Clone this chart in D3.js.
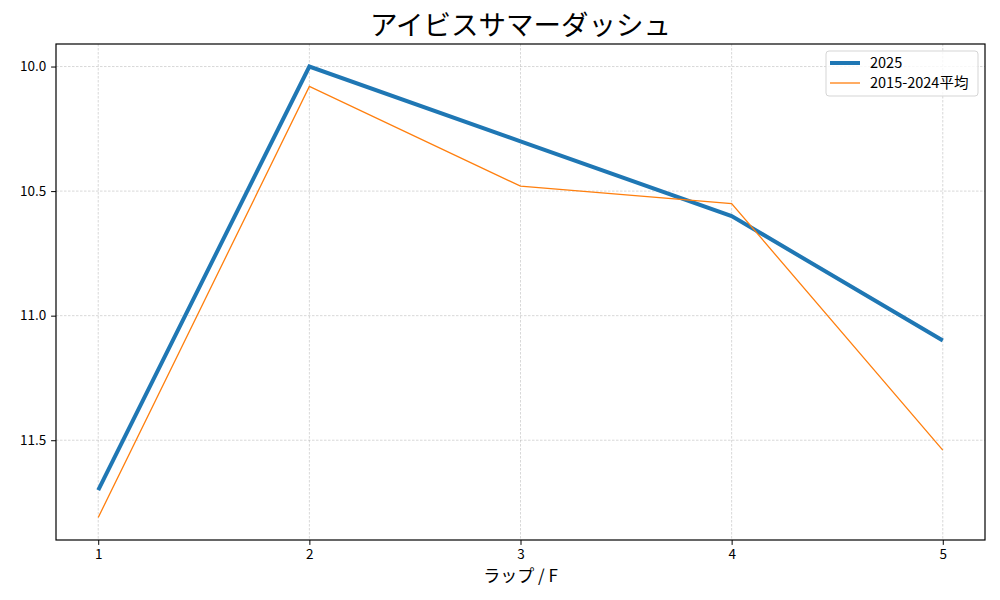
<!DOCTYPE html>
<html>
<head>
<meta charset="utf-8">
<script src="https://cdn.jsdelivr.net/npm/d3@7"></script>
<style>
  body { margin: 0; background: #fff; }
  text { font-family: "Noto Sans CJK JP", "DejaVu Sans", sans-serif; }
</style>
</head>
<body>
<script>
// lap data (seconds per furlong)
var laps = [1, 2, 3, 4, 5];
var times2025 = [11.7, 10.0, 10.3, 10.6, 11.1];
var timesAvg = [11.81, 10.08, 10.48, 10.55, 11.54];
var yTicks = [10.0, 10.5, 11.0, 11.5];
var seriesNames = ["2025", "2015-2024平均"];

var width = 1000;
var height = 600;
var margin = {left: 56, right: 15, top: 44, bottom: 60};
var plotW = width - margin.left - margin.right;
var plotH = height - margin.top - margin.bottom;

var svg = d3.select("body")
            .append("svg")
            .attr("width", width)
            .attr("height", height);

var xScale = d3.scaleLinear()
               .domain([0.8, 5.2])
               .range([margin.left, margin.left + plotW]);
var yScale = d3.scaleLinear()
               .domain([9.9095, 11.9005])
               .range([margin.top, margin.top + plotH]);

// grid
svg.append("g")
   .selectAll("line")
   .data(laps)
   .enter()
   .append("line")
   .attr("x1", function(d){ return xScale(d); })
   .attr("x2", function(d){ return xScale(d); })
   .attr("y1", margin.top)
   .attr("y2", margin.top + plotH)
   .attr("stroke", "#b0b0b0")
   .attr("stroke-width", 0.5)
   .attr("stroke-dasharray", "2.5,1.5");

svg.append("g")
   .selectAll("line")
   .data(yTicks)
   .enter()
   .append("line")
   .attr("x1", margin.left)
   .attr("x2", margin.left + plotW)
   .attr("y1", function(d){ return yScale(d); })
   .attr("y2", function(d){ return yScale(d); })
   .attr("stroke", "#b0b0b0")
   .attr("stroke-width", 0.5)
   .attr("stroke-dasharray", "2.5,1.5");

// axes
var xAxis = d3.axisBottom(xScale).tickValues(laps).tickFormat(d3.format("d")).tickSize(4.9).tickPadding(4.9);
var yAxis = d3.axisLeft(yScale).tickValues(yTicks).tickFormat(d3.format(".1f")).tickSize(4.9).tickPadding(4.9);

svg.append("g")
   .attr("class", "x-axis")
   .attr("transform", "translate(0," + (margin.top + plotH) + ")")
   .call(xAxis);

svg.append("g")
   .attr("class", "y-axis")
   .attr("transform", "translate(" + margin.left + ",0)")
   .call(yAxis);

svg.selectAll(".x-axis text, .y-axis text")
   .attr("font-size", "13.5px")
   .attr("fill", "#000");
svg.selectAll(".x-axis .domain, .y-axis .domain").remove();
svg.selectAll(".tick line").attr("stroke", "#000").attr("stroke-width", 1);

// frame
svg.append("rect")
   .attr("x", margin.left)
   .attr("y", margin.top)
   .attr("width", plotW)
   .attr("height", plotH)
   .attr("fill", "none")
   .attr("stroke", "#000")
   .attr("stroke-width", 1.2);

// lines
var line = d3.line()
             .x(function(d, i){ return xScale(laps[i]); })
             .y(function(d){ return yScale(d); });

svg.append("path")
   .datum(times2025)
   .attr("d", line)
   .attr("fill", "none")
   .attr("stroke", "#1f77b4")
   .attr("stroke-width", 4);

svg.append("path")
   .datum(timesAvg)
   .attr("d", line)
   .attr("fill", "none")
   .attr("stroke", "#ff7f0e")
   .attr("stroke-width", 1.3);

// title and label
svg.append("text")
   .attr("x", margin.left + plotW / 2)
   .attr("y", 35)
   .attr("text-anchor", "middle")
   .attr("font-size", "27.5px")
   .text("アイビスサマーダッシュ");

svg.append("text")
   .attr("x", margin.left + plotW / 2)
   .attr("y", 582)
   .attr("text-anchor", "middle")
   .attr("font-size", "17px")
   .text("ラップ / F");

// legend
var legendX = 826;
var legendY = 51;
svg.append("rect")
   .attr("x", legendX)
   .attr("y", legendY)
   .attr("width", 152)
   .attr("height", 45)
   .attr("rx", 3)
   .attr("fill", "#fff")
   .attr("fill-opacity", 0.8)
   .attr("stroke", "#d5d5d5");

var legendColors = ["#1f77b4", "#ff7f0e"];
var legendWidths = [4, 1.3];
seriesNames.forEach(function(name, i){
  var cy = legendY + 12 + i * 20;
  svg.append("line")
     .attr("x1", legendX + 4)
     .attr("x2", legendX + 34)
     .attr("y1", cy)
     .attr("y2", cy)
     .attr("stroke", legendColors[i])
     .attr("stroke-width", legendWidths[i]);
  svg.append("text")
     .attr("x", legendX + 44)
     .attr("y", cy + 5)
     .attr("font-size", "14.5px")
     .text(name);
});
</script>
</body>
</html>
